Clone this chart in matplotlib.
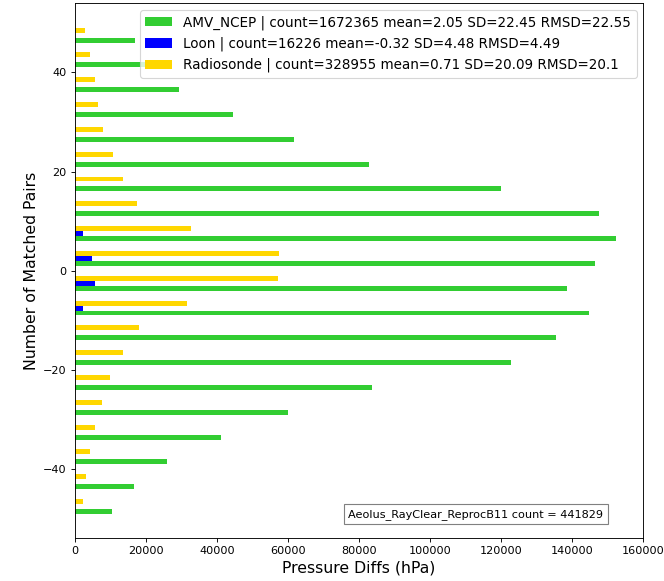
import numpy as np
import matplotlib
matplotlib.use('Agg')
import matplotlib.pyplot as plt

# bin centres of the 5-unit diff bins, bottom to top
bin_centres = [-47.5, -42.5, -37.5, -32.5, -27.5, -22.5, -17.5, -12.5, -7.5, -2.5,
               2.5, 7.5, 12.5, 17.5, 22.5, 27.5, 32.5, 37.5, 42.5, 47.5]

amv_ncep = [10500, 16690, 25880, 41260, 60020, 83570, 122770, 135350, 144630, 138440,
            146400, 152400, 147540, 119960, 82900, 61800, 44460, 29440, 20900, 16970]
loon = [0, 0, 0, 0, 0, 0, 0, 0, 2430, 5620,
        4970, 2430, 0, 0, 0, 0, 0, 0, 0, 0]
radiosonde = [2300, 3270, 4210, 5620, 7680, 9930, 13690, 18000, 31600, 57300,
              57500, 32730, 17620, 13690, 10690, 8100, 6470, 5600, 4300, 2900]

labels = ['AMV_NCEP | count=1672365 mean=2.05 SD=22.45 RMSD=22.55',
          'Loon | count=16226 mean=-0.32 SD=4.48 RMSD=4.49',
          'Radiosonde | count=328955 mean=0.71 SD=20.09 RMSD=20.1']
box_text = 'Aeolus_RayClear_ReprocB11 count = 441829'

fig = plt.figure(figsize=(664 / 81, 581 / 81), dpi=81)
ax = fig.add_axes([0.1125, 0.0735, 0.8563, 0.9208])

y = np.array(bin_centres)
ax.barh(y - 1, amv_ncep, height=1, color='limegreen', label=labels[0])
ax.barh(y, loon, height=1, color='blue', label=labels[1])
ax.barh(y + 1, radiosonde, height=1, color='gold', label=labels[2])

ax.set_xlim(0, 160000)
ax.set_yticks([-40, -20, 0, 20, 40])
ax.set_xlabel('Pressure Diffs (hPa)', fontsize=14)
ax.set_ylabel('Number of Matched Pairs', fontsize=14)
ax.tick_params(labelsize=10)

ax.legend(loc='upper right', fontsize=12)
ax.text(0.93, 0.035, box_text, transform=ax.transAxes, ha='right', va='bottom',
        fontsize=10, bbox=dict(boxstyle='square,pad=0.4', fc='white', ec='gray'))

fig.savefig('out.png', dpi=81)
